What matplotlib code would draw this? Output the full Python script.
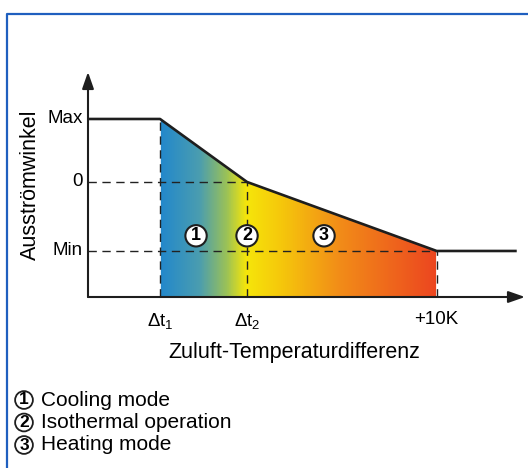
import numpy as np
import matplotlib
matplotlib.use("Agg")
import matplotlib.pyplot as plt
from matplotlib.colors import LinearSegmentedColormap
from matplotlib.patches import Polygon
from matplotlib.lines import Line2D

plt.rcParams['font.family'] = ['Liberation Sans', 'DejaVu Sans']
plt.rcParams['mathtext.fontset'] = 'custom'
plt.rcParams['mathtext.rm'] = 'Liberation Sans'
plt.rcParams['mathtext.it'] = 'Liberation Sans'

# curve: Ausstroemwinkel vs. Zuluft-Temperaturdifferenz (schematic units)
x_pts = [0.172, 1.0, 2.0, 4.18, 5.10]
y_pts = [0.913, 0.913, 0.0, -1.0, -1.0]
x_ticks = [1.0, 2.0, 4.18]
x_labels = [r'$\Delta\mathrm{t}_1$', r'$\Delta\mathrm{t}_2$', '+10K']
y_ticks = [0.913, 0.0, -1.0]
y_labels = ['Max', '0', 'Min']
zone_x = [1.414, 2.0, 2.885]
zone_y = -0.78
zone_labels = ['1', '2', '3']
legend = ['Cooling mode', 'Isothermal operation', 'Heating mode']

xmin, xmax = 0.172, 5.195
ymin, ymax = -1.667, 1.594

W, H = 528, 468
fig = plt.figure(figsize=(W / 100, H / 100), dpi=100)
ax = fig.add_axes([88 / W, (H - 297) / H, (525 - 88) / W, (297 - 72) / H])
ax.set_xlim(xmin, xmax)
ax.set_ylim(ymin, ymax)
ax.axis('off')

# gradient fill under the curve between dt1 and +10K
cmap = LinearSegmentedColormap.from_list('temp', [
    (0.0, '#2388cb'), (0.14, '#4a9db0'), (0.24, '#9cc256'),
    (0.31, '#f6e60a'), (0.45, '#f5c40c'), (0.65, '#f28c18'), (1.0, '#ec4620')])
grad = np.linspace(0, 1, 400).reshape(1, -1)
im = ax.imshow(grad, extent=[x_ticks[0], x_ticks[2], ymin, y_pts[1]],
               aspect='auto', cmap=cmap, origin='lower', zorder=1)
clip = Polygon([(x_pts[1], ymin), (x_pts[1], y_pts[1]), (x_pts[2], y_pts[2]),
                (x_pts[3], y_pts[3]), (x_pts[3], ymin)], closed=True,
               transform=ax.transData, facecolor='none', edgecolor='none')
ax.add_patch(clip)
im.set_clip_path(clip)

dash = dict(color='#222222', lw=1.0, ls=(0, (6, 4)), zorder=3)
# horizontal guides
ax.plot([xmin, x_pts[2]], [0, 0], **dash)
ax.plot([xmin, x_pts[3]], [-1, -1], **dash)
# vertical guides
for xv, yv in [(x_pts[1], y_pts[1]), (x_pts[3], y_pts[3])]:
    ax.plot([xv, xv], [ymin, yv], color='white', lw=1.2, zorder=2.5)
    ax.plot([xv, xv], [ymin, yv], **dash)
ax.plot([x_pts[2], x_pts[2]], [ymin, 0], **dash)

# curve
ax.plot(x_pts, y_pts, color='#1e1e1e', lw=1.9, zorder=4, solid_capstyle='butt')

# axes with arrows
arrow = dict(arrowstyle='-|>,head_length=1.0,head_width=0.35', color='#1e1e1e',
             lw=1.5, shrinkA=0, shrinkB=0)
ax.annotate('', xy=(xmin, ymax), xytext=(xmin, ymin), arrowprops=arrow, zorder=5)
ax.annotate('', xy=(xmax, ymin), xytext=(xmin, ymin), arrowprops=arrow, zorder=5)

for yv, lab in zip(y_ticks, y_labels):
    ax.text(xmin - 0.06, yv, lab, ha='right', va='center', fontsize=13.5)
for xv, lab in zip(x_ticks, x_labels):
    ax.text(xv, ymin - 0.2, lab, ha='center', va='top', fontsize=13.5)

ax.text(2.546, ymin - 0.8, 'Zuluft-Temperaturdifferenz',
        ha='center', va='center', fontsize=15.5)
ax.text(-0.494, -0.04, 'Ausströmwinkel', rotation=90,
        ha='center', va='center', fontsize=15.5)

circ = dict(boxstyle='circle,pad=0.12', fc='white', ec='#1e1e1e', lw=1.5)
for xv, lab in zip(zone_x, zone_labels):
    ax.text(xv, zone_y, lab, ha='center', va='center', fontsize=13,
            fontweight='bold', bbox=circ, zorder=6)

# legend below
for i, lab in enumerate(legend):
    yy = 1 - (400 + 22.5 * i) / H
    fig.text(24 / W, yy, str(i + 1), ha='center', va='center', fontsize=12.5,
             fontweight='bold', bbox=dict(boxstyle='circle,pad=0.08', fc='white',
                                          ec='#1e1e1e', lw=1.3))
    fig.text(41 / W, yy, lab, ha='left', va='center', fontsize=15)

# blue frame
fig.add_artist(Line2D([6.5 / W, 6.5 / W, 1.0], [0.0, 1 - 13.5 / H, 1 - 13.5 / H],
                      transform=fig.transFigure, color='#1f5fbf', lw=1.6))

fig.savefig('out.png', dpi=100)
